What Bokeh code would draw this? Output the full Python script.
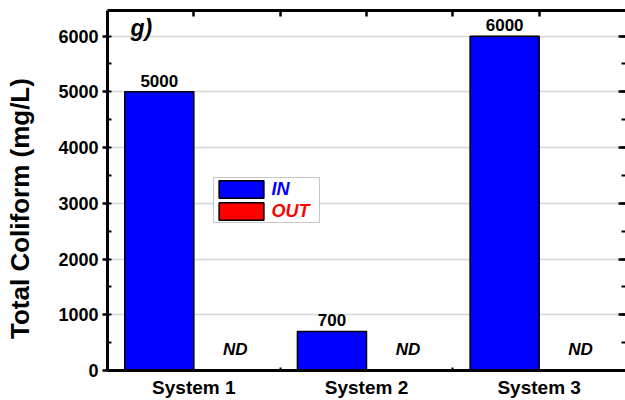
import numpy as np
from bokeh.plotting import figure
from bokeh.core.properties import value
from bokeh.models import (Range1d, LinearAxis, FixedTicker, SingleIntervalTicker,
                          Legend, LegendItem, Label, ColumnDataSource,
                          CustomJSTickFormatter, BoxAnnotation)
from bokeh.embed import file_html
from bokeh.resources import INLINE

# Total coliform at system inlet / outlet
systems = ["System 1", "System 2", "System 3"]
in_vals = [5000, 700, 6000]
out_vals = [0, 0, 0]
out_notes = ["ND", "ND", "ND"]
y_ticks = [0, 1000, 2000, 3000, 4000, 5000, 6000]

FONT = "Liberation Sans"
idx = np.arange(len(systems))

src = ColumnDataSource(dict(
    x_in=idx - 0.2,
    x_out=idx + 0.2,
    x_note=idx + 0.24,
    y_in=in_vals,
    y_out=out_vals,
    lbl_in=[str(v) for v in in_vals],
    note=out_notes,
))

p = figure(width=625, height=400, output_backend="svg", toolbar_location=None,
           x_range=Range1d(-0.5, 2.5), y_range=Range1d(0, 6460),
           min_border_left=107, min_border_right=0, min_border_top=10,
           min_border_bottom=28, background_fill_color="white",
           border_fill_color="white", outline_line_color=None)

p.xgrid.grid_line_color = None
p.ygrid.grid_line_color = "#d6d6d6"
p.ygrid.grid_line_width = 1.5
p.ygrid.ticker = FixedTicker(ticks=y_ticks)

r_in = p.vbar(x="x_in", top="y_in", width=0.4, source=src,
              fill_color="#0000FF", line_color="black", line_width=1.5)
r_out = p.vbar(x="x_out", top="y_out", width=0.4, source=src,
               fill_color="#FF0000", line_color="black", line_width=1.5)

p.text(x="x_in", y="y_in", text="lbl_in", source=src, text_align="center",
       text_baseline="bottom", y_offset=-5, text_font=value(FONT),
       text_font_style="bold", text_font_size="17px", text_color="black")
p.text(x="x_note", y="y_out", text="note", source=src, text_align="center",
       text_baseline="middle", y_offset=-21, text_font=value(FONT),
       text_font_style="bold italic", text_font_size="17px", text_color="black")

# left axis; trailing no-break spaces nudge the title towards the bottom
ya = p.yaxis[0]
ya.ticker = SingleIntervalTicker(interval=1000, num_minor_ticks=2)
ya.axis_line_width = 3
ya.major_tick_line_width = 2.5
ya.major_tick_out = 5
ya.major_tick_in = 0
ya.minor_tick_line_width = 2
ya.minor_tick_in = 4
ya.minor_tick_out = 0
ya.major_label_standoff = 4
ya.major_label_text_font = FONT
ya.major_label_text_font_style = "bold"
ya.major_label_text_font_size = "18px"
ya.major_label_text_color = "black"
ya.axis_label = "Total Coliform (mg/L)" + "\u00a0" * 5
ya.axis_label_standoff = 20
ya.axis_label_text_font = FONT
ya.axis_label_text_font_style = "bold"
ya.axis_label_text_font_size = "26px"
ya.axis_label_text_color = "black"

# bottom axis
xa = p.xaxis[0]
xa.ticker = FixedTicker(ticks=list(idx), minor_ticks=[0.5, 1.5])
xa.major_label_overrides = {int(i): s for i, s in zip(idx, systems)}
xa.axis_line_width = 3
xa.major_tick_line_color = None
xa.minor_tick_line_width = 2
xa.minor_tick_in = 3
xa.minor_tick_out = 0
xa.major_label_standoff = 0
xa.major_label_text_font = FONT
xa.major_label_text_font_style = "bold"
xa.major_label_text_font_size = "19px"
xa.major_label_text_color = "black"

blank = CustomJSTickFormatter(code="return ''")

# top axis: ticks only
top = LinearAxis(ticker=FixedTicker(ticks=[0, 0.5, 1, 1.5, 2]),
                 formatter=blank, major_label_text_color=None,
                 axis_line_width=3, major_tick_in=6, major_tick_out=0,
                 major_tick_line_width=2.5, minor_tick_line_color=None,
                 major_label_standoff=0)
p.add_layout(top, "above")

# right axis: ticks only
right = LinearAxis(ticker=SingleIntervalTicker(interval=1000, num_minor_ticks=2),
                   formatter=blank, major_label_text_color=None,
                   axis_line_color=None, major_tick_in=7, major_tick_out=0,
                   major_tick_line_width=2.5, minor_tick_in=4, minor_tick_out=0,
                   minor_tick_line_width=2, major_label_standoff=0)
p.add_layout(right, "right")

# legend frame, then one legend per series so each label keeps its colour
p.add_layout(BoxAnnotation(left=106, right=212, bottom=148, top=193,
                           left_units="screen", right_units="screen",
                           bottom_units="screen", top_units="screen",
                           fill_color="white", fill_alpha=1,
                           line_color="#444444", line_width=1))

def series_legend(label, renderer, color, y):
    return Legend(items=[LegendItem(label=label, renderers=[renderer])],
                  location=(106.4, y), orientation="vertical",
                  glyph_width=56, glyph_height=22, label_standoff=2,
                  padding=0, spacing=0, margin=0,
                  label_text_font=FONT, label_text_font_style="bold italic",
                  label_text_font_size="18px", label_text_color=color,
                  border_line_color=None, background_fill_alpha=0)

p.add_layout(series_legend("IN", r_in, "#0000FF", 170), "center")
p.add_layout(series_legend("OUT", r_out, "#FF0000", 148), "center")

# panel tag
p.add_layout(Label(x=23, y=330, x_units="screen", y_units="screen", text="g)",
                   text_font=FONT, text_font_style="bold italic",
                   text_font_size="23px", text_color="black"))

open("out.html", "w").write(file_html(p, INLINE))
